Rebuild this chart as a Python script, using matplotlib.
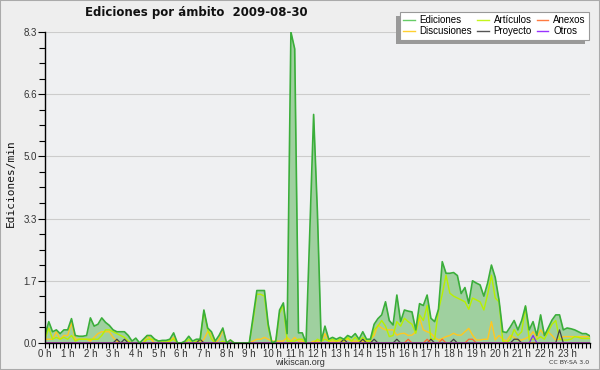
import numpy as np
import matplotlib
matplotlib.use("Agg")
import matplotlib.pyplot as plt
from matplotlib.ticker import MultipleLocator, FixedLocator
from matplotlib.patches import Rectangle

# values every 10 minutes, one row per hour (last row also holds 24:00)
ediciones = [
    0.2, 0.57, 0.3, 0.35, 0.25, 0.35,
    0.35, 0.65, 0.2, 0.18, 0.18, 0.2,
    0.67, 0.45, 0.5, 0.67, 0.55, 0.47,
    0.35, 0.3, 0.3, 0.3, 0.2, 0.05,
    0.13, 0.0, 0.1, 0.2, 0.2, 0.1,
    0.05, 0.07, 0.07, 0.1, 0.27, 0.0,
    0.0, 0.05, 0.18, 0.05, 0.1, 0.1,
    0.88, 0.4, 0.3, 0.05, 0.2, 0.4,
    0.0, 0.08, 0.0, 0.0, 0.0, 0.0,
    0.0, 0.7, 1.4, 1.4, 1.4, 0.5,
    0.0, 0.05, 0.88, 1.07, 0.25, 8.3,
    7.85, 0.27, 0.27, 0.0, 3.0, 6.1,
    3.5, 0.05, 0.45, 0.1, 0.15, 0.1,
    0.15, 0.1, 0.2, 0.15, 0.25, 0.1,
    0.3, 0.1, 0.1, 0.5, 0.65, 0.75,
    1.1, 0.6, 0.48, 1.28, 0.57, 0.88,
    0.85, 0.83, 0.35, 1.05, 1.0, 1.28,
    0.66, 0.57, 0.9, 2.17, 1.86, 1.86,
    1.88, 1.8, 1.32, 1.48, 1.06, 1.66,
    1.6, 1.55, 1.25, 1.6, 2.08, 1.75,
    1.15, 0.3, 0.28, 0.43, 0.6, 0.35,
    0.6, 0.99, 0.35, 0.57, 0.2, 0.75,
    0.2, 0.4, 0.61, 0.75, 0.75, 0.35,
    0.4, 0.38, 0.35, 0.3, 0.25, 0.25, 0.19,
]
articulos = [
    0.1, 0.4, 0.1, 0.15, 0.1, 0.15,
    0.1, 0.2, 0.05, 0.1, 0.1, 0.1,
    0.1, 0.1, 0.1, 0.2, 0.35, 0.35,
    0.3, 0.25, 0.2, 0.15, 0.05, 0.0,
    0.0, 0.0, 0.0, 0.1, 0.1, 0.1,
    0.05, 0.05, 0.05, 0.05, 0.1, 0.0,
    0.0, 0.0, 0.1, 0.0, 0.05, 0.05,
    0.85, 0.35, 0.1, 0.0, 0.0, 0.05,
    0.0, 0.0, 0.0, 0.0, 0.0, 0.0,
    0.0, 0.6, 1.3, 1.3, 1.25, 0.4,
    0.0, 0.0, 0.8, 1.0, 0.05, 0.05,
    0.05, 0.1, 0.1, 0.0, 0.0, 0.0,
    0.1, 0.05, 0.1, 0.05, 0.1, 0.05,
    0.1, 0.05, 0.15, 0.05, 0.15, 0.05,
    0.15, 0.05, 0.05, 0.35, 0.45, 0.6,
    0.45, 0.17, 0.2, 0.57, 0.45, 0.66,
    0.57, 0.5, 0.26, 0.75, 0.6, 1.0,
    0.1, 0.1, 0.88, 1.3, 1.81, 1.33,
    1.25, 1.2, 1.15, 1.1, 0.9, 1.2,
    1.15, 1.1, 0.88, 1.3, 1.81, 1.2,
    1.1, 0.05, 0.0, 0.1, 0.36, 0.2,
    0.3, 0.97, 0.08, 0.1, 0.1, 0.17,
    0.1, 0.3, 0.5, 0.6, 0.1, 0.08,
    0.08, 0.1, 0.17, 0.15, 0.12, 0.12, 0.12,
]
discusiones = [
    0.1, 0.1, 0.1, 0.3, 0.1, 0.2,
    0.2, 0.55, 0.1, 0.1, 0.1, 0.1,
    0.05, 0.15, 0.25, 0.3, 0.3, 0.3,
    0.15, 0.05, 0.0, 0.0, 0.0, 0.0,
    0.0, 0.0, 0.0, 0.2, 0.1, 0.0,
    0.0, 0.0, 0.0, 0.05, 0.15, 0.0,
    0.0, 0.0, 0.0, 0.0, 0.0, 0.0,
    0.1, 0.3, 0.25, 0.0, 0.1, 0.35,
    0.0, 0.08, 0.0, 0.0, 0.0, 0.0,
    0.0, 0.05, 0.1, 0.1, 0.15, 0.1,
    0.05, 0.05, 0.05, 0.05, 0.15, 0.05,
    0.15, 0.05, 0.05, 0.0, 0.0, 0.05,
    0.05, 0.0, 0.25, 0.05, 0.05, 0.05,
    0.05, 0.05, 0.1, 0.05, 0.05, 0.05,
    0.05, 0.05, 0.1, 0.2, 0.48, 0.4,
    0.35, 0.35, 0.35, 0.21, 0.25, 0.26,
    0.2, 0.21, 0.3, 0.66, 0.35, 0.3,
    0.26, 0.15, 0.08, 0.12, 0.17, 0.2,
    0.26, 0.21, 0.21, 0.3, 0.39, 0.21,
    0.08, 0.08, 0.1, 0.1, 0.57, 0.08,
    0.2, 0.1, 0.05, 0.2, 0.15, 0.08,
    0.08, 0.12, 0.17, 0.3, 0.15, 0.35,
    0.2, 0.3, 0.2, 0.08, 0.1, 0.17,
    0.17, 0.17, 0.17, 0.17, 0.17, 0.17, 0.17,
]
proyecto = [
    0, 0, 0, 0, 0, 0,
    0, 0, 0, 0, 0, 0,
    0, 0, 0, 0, 0, 0,
    0, 0.1, 0, 0.1, 0, 0,
    0, 0, 0, 0, 0, 0,
    0, 0, 0, 0, 0, 0,
    0, 0, 0, 0, 0, 0.1,
    0, 0, 0, 0, 0, 0,
    0, 0, 0, 0, 0, 0,
    0, 0, 0, 0, 0, 0,
    0, 0, 0, 0, 0, 0,
    0, 0, 0, 0, 0, 0,
    0, 0, 0, 0, 0, 0,
    0, 0.1, 0, 0, 0, 0,
    0.1, 0, 0, 0.1, 0, 0,
    0, 0, 0, 0.1, 0, 0,
    0, 0, 0, 0, 0, 0,
    0.1, 0, 0, 0, 0, 0,
    0.1, 0, 0, 0, 0, 0,
    0, 0, 0, 0, 0, 0,
    0, 0, 0, 0, 0.1, 0.1,
    0, 0, 0, 0, 0, 0,
    0, 0, 0, 0, 0.35, 0,
    0, 0, 0, 0, 0, 0, 0,
]
anexos = [
    0, 0, 0, 0, 0, 0,
    0, 0, 0, 0, 0, 0,
    0, 0, 0, 0, 0, 0,
    0, 0, 0, 0, 0, 0,
    0, 0, 0, 0, 0, 0,
    0, 0, 0, 0, 0, 0,
    0, 0, 0, 0, 0, 0,
    0, 0, 0, 0, 0, 0,
    0, 0, 0, 0, 0, 0,
    0, 0, 0, 0, 0, 0,
    0, 0, 0, 0, 0, 0,
    0, 0, 0, 0, 0, 0,
    0, 0, 0, 0, 0, 0,
    0, 0, 0, 0, 0, 0,
    0, 0, 0, 0, 0, 0,
    0, 0, 0, 0, 0, 0,
    0.1, 0, 0, 0, 0, 0.1,
    0, 0, 0, 0.1, 0, 0,
    0, 0, 0, 0, 0.1, 0.1,
    0, 0, 0, 0, 0, 0,
    0, 0, 0, 0, 0, 0,
    0, 0, 0, 0, 0, 0,
    0, 0, 0, 0, 0, 0,
    0, 0, 0, 0, 0, 0, 0,
]
otros = [0] * 129 + [0.2] + [0] * 15

hours = np.arange(len(ediciones)) / 6
hour_labels = [f"{h} h" for h in range(24)]

fig = plt.figure(figsize=(6, 3.7), dpi=100, facecolor="#eeeeee")
ax = fig.add_axes([0.075, 0.073, 0.908, 0.8405], facecolor="#eff0f2")

ax.fill_between(hours, ediciones, color="#9fd09f", lw=0)
ax.plot(hours, discusiones, color="#ffc820", lw=1)
ax.plot(hours, articulos, color="#b8f000", lw=1)
ax.plot(hours, proyecto, color="#444444", lw=0.9)
ax.plot(hours, anexos, color="#ff6a2a", lw=0.9)
ax.plot(hours, otros, color="#8a2be2", lw=0.9)
ax.plot(hours, ediciones, color="#3aae3a", lw=1.2)

ax.set_xlim(0, 24)
ax.set_ylim(0, 8.3)
yt = np.linspace(0, 8.3, 6)
ax.set_yticks(yt)
ax.set_yticklabels([f"{v:.1f}" for v in yt], family="Liberation Sans")
ax.yaxis.set_minor_locator(FixedLocator(np.linspace(0, 8.3, 21)))
ax.set_xticks(range(24))
ax.set_xticklabels(hour_labels, family="Liberation Sans")
ax.xaxis.set_minor_locator(MultipleLocator(1 / 6))
ax.tick_params(axis="both", labelsize=7, colors="#333333", direction="out")
ax.tick_params(axis="y", which="major", length=5, width=0.8, color="black", pad=1)
ax.tick_params(axis="y", which="minor", length=4, width=0.8, color="black")
ax.tick_params(axis="x", which="both", length=3.5, width=0.8, color="black", pad=0.5)
ax.grid(axis="y", color="#cccccc", lw=0.8)
ax.set_axisbelow(True)
for s in ["top", "right"]:
    ax.spines[s].set_visible(False)
ax.spines["left"].set_linewidth(1)
ax.spines["bottom"].set_linewidth(1)

fig.text(0.142, 0.965, "Ediciones por ámbito  2009-08-30", fontsize=8.5,
         fontweight="bold", ha="left", va="center", color="#111111")
fig.text(0.018, 0.505, "Ediciones/min", rotation=90, fontsize=8,
         family="DejaVu Sans Mono", ha="center", va="center", color="#111111")
fig.text(0.5, 0.02, "wikiscan.org", fontsize=6.5, ha="center", va="center",
         color="#333333", family="Liberation Sans")
fig.text(0.982, 0.02, "CC BY-SA 3.0", fontsize=4.5, ha="right", va="center", color="#333333")

handles = [
    plt.Line2D([], [], color="#66cc66", lw=1),
    plt.Line2D([], [], color="#ffd030", lw=1),
    plt.Line2D([], [], color="#c4f51c", lw=1),
    plt.Line2D([], [], color="#555555", lw=1),
    plt.Line2D([], [], color="#ff7a40", lw=1),
    plt.Line2D([], [], color="#9933ff", lw=1),
]
labels = ["Ediciones", "Discusiones", "Artículos", "Proyecto", "Anexos", "Otros"]
leg = fig.legend(handles, labels, ncol=3, loc="upper right",
                 bbox_to_anchor=(0.982, 0.968), frameon=True,
                 prop={"family": "Liberation Sans", "size": 7},
                 fancybox=False, edgecolor="#999999", facecolor="white",
                 framealpha=1, handlelength=1.2, handletextpad=0.5,
                 columnspacing=0.5, labelspacing=0.1, borderpad=0.35,
                 borderaxespad=0)
leg.get_frame().set_linewidth(0.8)

fig.canvas.draw()
bb = leg.get_window_extent().transformed(fig.transFigure.inverted())
shadow = Rectangle((bb.x0 - 4 / 600, bb.y0 - 4 / 370), bb.width, bb.height,
                   transform=fig.transFigure, facecolor="#999999", edgecolor="none",
                   zorder=leg.get_zorder() - 1)
fig.patches.append(shadow)
fig.patches.append(Rectangle((0, 0), 1, 1, transform=fig.transFigure, fill=False,
                             edgecolor="#aaaaaa", lw=1.5))

fig.savefig("out.png", dpi=100, facecolor=fig.get_facecolor())
